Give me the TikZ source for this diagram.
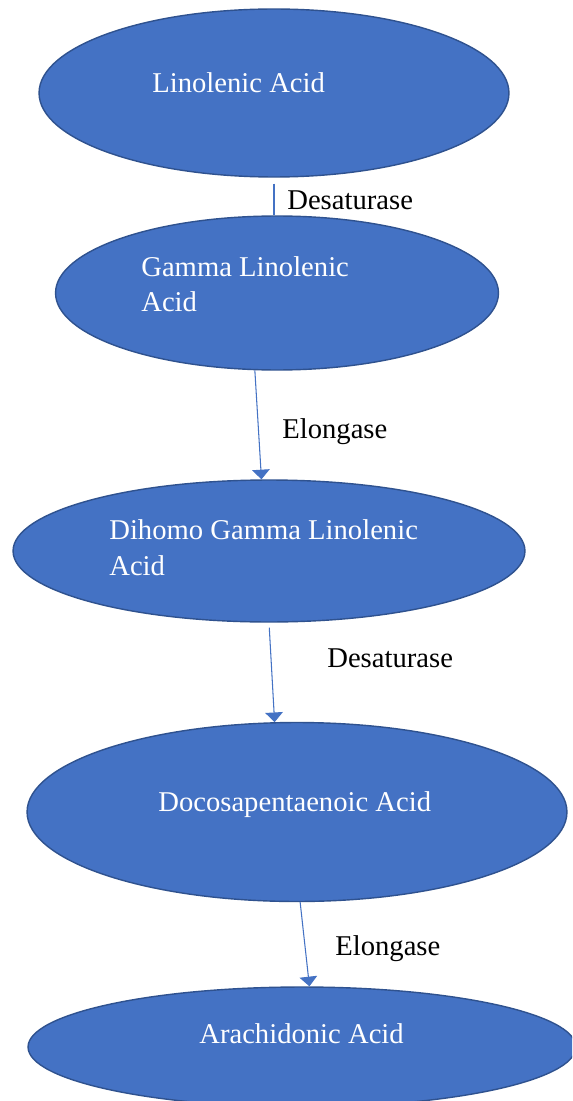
\documentclass[tikz,border=0pt]{standalone}
\usepackage{fontspec}
\setmainfont{Liberation Serif}
\usepackage{tikz}
\usetikzlibrary{shapes.geometric}
\usetikzlibrary{arrows.meta}

\definecolor{acidblue}{HTML}{4472C4}
\definecolor{acidedge}{HTML}{2F528F}

\begin{document}
\begin{tikzpicture}[x=0.02cm, y=-0.02cm,
acid/.style={ellipse, fill=acidblue, draw=acidedge, line width=0.8pt, inner sep=0pt},
acidname/.style={anchor=base west, inner sep=0pt, text=white, align=left, font=\fontsize{16.3}{20}\selectfont},
enzyme/.style={anchor=base west, inner sep=0pt, font=\fontsize{16.3}{20}\selectfont},
link/.style={draw=acidblue, line width=0.6pt},
flow/.style={link, -{Triangle[width=10pt,length=5.5pt]}}]
\useasboundingbox (0,0) rectangle (572,1101);
\clip (0,0) rectangle (572,1101);
\fill[white] (0,0) rectangle (572,1101);

\node[acid, minimum width=9.4cm, minimum height=3.36cm] (lin) at (274,93) {};
\node[acid, minimum width=8.86cm, minimum height=3.08cm] (gla) at (277,293) {};
\node[acid, minimum width=10.24cm, minimum height=2.84cm] (dgla) at (269,551) {};
\node[acid, minimum width=10.8cm, minimum height=3.58cm] (dpa) at (297,812) {};
\node[acid, minimum width=10.96cm, minimum height=2.4cm] (ara) at (302,1047) {};

\node[acidname] (lin-name) at (152,93) {Linolenic Acid};
\node[acidname] (gla-name) at (141,312) {Gamma Linolenic\\Acid};
\node[acidname] (dgla-name) at (109,575) {Dihomo Gamma Linolenic\\Acid};
\node[acidname] (dpa-name) at (158,811) {Docosapentaenoic Acid};
\node[acidname] (ara-name) at (199,1043) {Arachidonic Acid};

\node[enzyme] (des1) at (287,210) {Desaturase};
\node[enzyme] (elo1) at (282,438) {Elongase};
\node[enzyme] (des2) at (327,667) {Desaturase};
\node[enzyme] (elo2) at (335,955) {Elongase};

\draw[link, shorten <=0.12cm] (lin.south) -- (lin.south |- gla.north);
\draw[flow] (gla.254) -- (dgla.96);
\draw[flow, shorten <=0.1cm] (dgla.south) -- (dpa.104);
\draw[flow] (dpa.272) -- (ara.83);
\end{tikzpicture}
\end{document}
